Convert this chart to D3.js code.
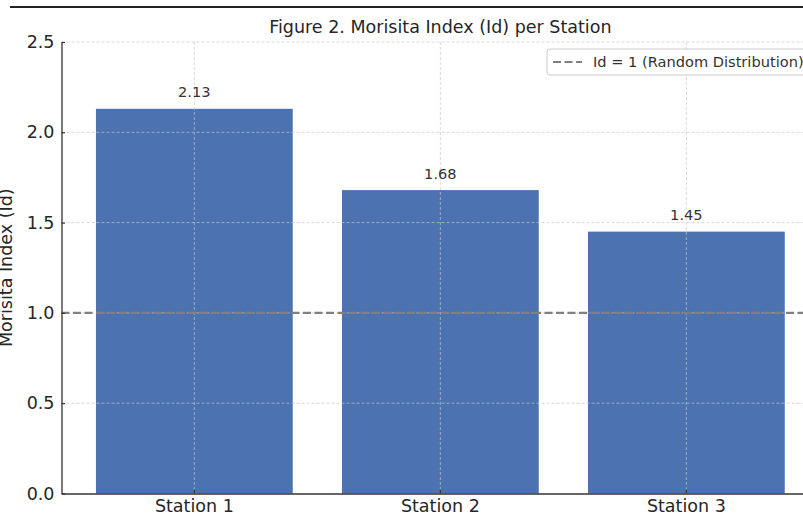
<!DOCTYPE html>
<html>
<head>
<meta charset="utf-8">
<script src="https://cdn.jsdelivr.net/npm/d3@7"></script>
<style>
  html, body { margin: 0; padding: 0; background: #fff; overflow: hidden; }
  svg { display: block; font-family: "DejaVu Sans", sans-serif; }
</style>
</head>
<body>
<svg id="chart" width="803" height="520"></svg>
<script>
// Morisita index per sampling station
const stations = ["Station 1", "Station 2", "Station 3"];
const morisita = [2.13, 1.68, 1.45];
const yTicks = [0.0, 0.5, 1.0, 1.5, 2.0, 2.5];
const yTickLabels = ["0.0", "0.5", "1.0", "1.5", "2.0", "2.5"];
const randomLevel = 1;
const legendLabel = "Id = 1 (Random Distribution)";
const titleText = "Figure 2. Morisita Index (Id) per Station";
const yLabel = "Morisita Index (Id)";

const svg = d3.select("#chart");

const plot = { left: 61.5, right: 819.2, top: 42, bottom: 493.5 };
const ink = "#262626";

const x = d3.scaleBand()
  .domain(stations)
  .range([plot.left, plot.right])
  .paddingInner(0.2)
  .paddingOuter(0.14);

const y = d3.scaleLinear()
  .domain([0, 2.5])
  .range([plot.bottom, plot.top]);

// frame line across the top
svg.append("line")
  .attr("x1", 10).attr("x2", 803)
  .attr("y1", 7).attr("y2", 7)
  .attr("stroke", "#222").attr("stroke-width", 2);

// bars
svg.append("g").selectAll("rect")
  .data(stations)
  .join("rect")
  .attr("x", d => x(d))
  .attr("width", x.bandwidth())
  .attr("y", (d, i) => y(morisita[i]))
  .attr("height", (d, i) => y(0) - y(morisita[i]))
  .attr("fill", "#4c72b0");

// grid (drawn above the bars)
const grid = svg.append("g")
  .attr("stroke", "#c8c8c8")
  .attr("stroke-width", 0.8)
  .attr("stroke-dasharray", "3,2")
  .attr("opacity", 0.85);
grid.selectAll("line.h")
  .data(yTicks.filter(t => t > 0))
  .join("line")
  .attr("class", "h")
  .attr("x1", plot.left).attr("x2", plot.right)
  .attr("y1", d => y(d)).attr("y2", d => y(d));
grid.selectAll("line.v")
  .data(stations)
  .join("line")
  .attr("class", "v")
  .attr("x1", d => x(d) + x.bandwidth() / 2)
  .attr("x2", d => x(d) + x.bandwidth() / 2)
  .attr("y1", plot.top).attr("y2", plot.bottom);

// reference line Id = 1
svg.append("line")
  .attr("x1", plot.left).attr("x2", plot.right)
  .attr("y1", y(randomLevel)).attr("y2", y(randomLevel))
  .attr("stroke", "#808080")
  .attr("stroke-width", 2.2)
  .attr("stroke-dasharray", "8,3.5");

// value labels
svg.append("g").selectAll("text")
  .data(stations)
  .join("text")
  .attr("x", d => x(d) + x.bandwidth() / 2)
  .attr("y", (d, i) => y(morisita[i]) - 11.5)
  .attr("text-anchor", "middle")
  .attr("font-size", 14.6)
  .attr("fill", "#333")
  .text((d, i) => morisita[i].toFixed(2));

// y axis
const yAxis = svg.append("g")
  .attr("transform", `translate(${plot.left},0)`)
  .call(d3.axisLeft(y)
    .tickValues(yTicks)
    .tickFormat((d, i) => yTickLabels[i])
    .tickSizeInner(-3.5)
    .tickSizeOuter(0)
    .tickPadding(7));
yAxis.select(".domain").attr("stroke", "#333").attr("stroke-width", 1.3);
yAxis.selectAll(".tick line").attr("stroke", "#333").attr("stroke-width", 1.2);
yAxis.selectAll(".tick text")
  .attr("font-size", 17.5)
  .attr("fill", ink)
  .attr("font-family", "DejaVu Sans");

// x axis
const xAxis = svg.append("g")
  .attr("transform", `translate(0,${plot.bottom})`)
  .call(d3.axisBottom(x)
    .tickSizeInner(-4)
    .tickSizeOuter(0)
    .tickPadding(6));
xAxis.select(".domain").attr("stroke", "#333").attr("stroke-width", 1.3);
xAxis.selectAll(".tick line").attr("stroke", "#333").attr("stroke-width", 1.2);
xAxis.selectAll(".tick text")
  .attr("font-size", 17.5)
  .attr("fill", ink)
  .attr("font-family", "DejaVu Sans")
  .attr("dy", null)
  .attr("y", 18.5);

// title
svg.append("text")
  .attr("x", (plot.left + plot.right) / 2)
  .attr("y", 33)
  .attr("text-anchor", "middle")
  .attr("font-size", 17.5)
  .attr("fill", ink)
  .text(titleText);

// y axis label (partly past the left edge of the canvas)
svg.append("text")
  .attr("transform", `translate(11.5,${(plot.top + plot.bottom) / 2}) rotate(-90)`)
  .attr("text-anchor", "middle")
  .attr("font-size", 17.5)
  .attr("fill", ink)
  .text(yLabel);

// legend
const legend = svg.append("g").attr("transform", "translate(547,49)");
legend.append("rect")
  .attr("width", 290).attr("height", 26)
  .attr("rx", 3).attr("ry", 3)
  .attr("fill", "#fff").attr("fill-opacity", 0.85)
  .attr("stroke", "#cccccc").attr("stroke-width", 1);
legend.append("line")
  .attr("x1", 6).attr("x2", 35)
  .attr("y1", 13).attr("y2", 13)
  .attr("stroke", "#808080")
  .attr("stroke-width", 2.2)
  .attr("stroke-dasharray", "8,3.5");
legend.append("text")
  .attr("x", 46).attr("y", 18)
  .attr("font-size", 14.6)
  .attr("fill", "#333")
  .text(legendLabel);
</script>
</body>
</html>
